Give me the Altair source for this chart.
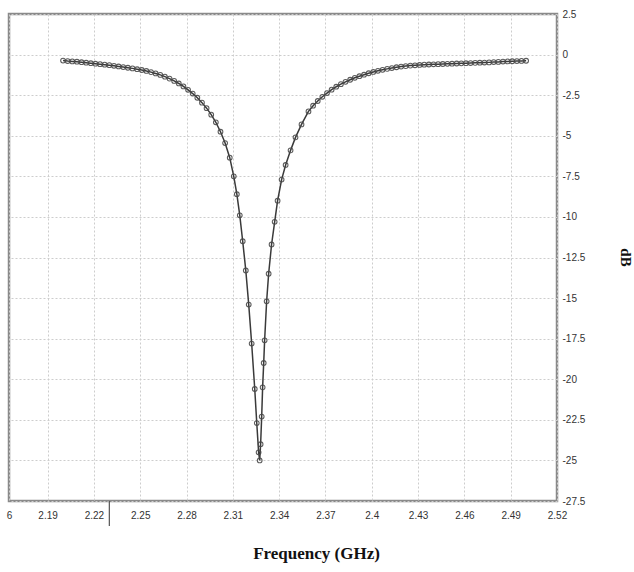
import altair as alt
import pandas as pd

# Frequency (GHz) and return loss (dB)
freq = [
    2.200, 2.203, 2.206, 2.209, 2.212, 2.215, 2.218, 2.221, 2.224, 2.227,
    2.230, 2.233, 2.236, 2.239, 2.242, 2.245, 2.248, 2.251, 2.254, 2.257,
    2.260, 2.263, 2.266, 2.269, 2.272, 2.275, 2.278, 2.281, 2.284, 2.287,
    2.290, 2.293, 2.296, 2.299, 2.302, 2.305, 2.308,
    2.3106, 2.3126, 2.3145, 2.3164, 2.3184, 2.3203, 2.3222, 2.3242, 2.3255, 2.3267, 2.3274,
    2.3280, 2.3287, 2.3293, 2.3300, 2.3306, 2.3319, 2.3332, 2.3351, 2.3371, 2.3390,
    2.3416, 2.3442, 2.3474, 2.3506, 2.3545, 2.3590,
    2.362, 2.365, 2.368, 2.371, 2.374, 2.377, 2.380, 2.383, 2.386, 2.389,
    2.392, 2.395, 2.398, 2.401, 2.404, 2.407, 2.410, 2.413, 2.416, 2.419,
    2.422, 2.425, 2.428, 2.431, 2.434, 2.437, 2.440, 2.443, 2.446, 2.449,
    2.452, 2.455, 2.458, 2.461, 2.464, 2.467, 2.470, 2.473, 2.476, 2.479,
    2.482, 2.485, 2.488, 2.491, 2.494, 2.497, 2.500,
]
db = [
    -0.37, -0.40, -0.42, -0.44, -0.47, -0.50, -0.53, -0.56, -0.59, -0.62,
    -0.65, -0.69, -0.73, -0.77, -0.81, -0.85, -0.90, -0.95, -1.01, -1.08,
    -1.16, -1.25, -1.36, -1.48, -1.62, -1.78, -1.96, -2.17, -2.40, -2.66,
    -2.96, -3.30, -3.70, -4.17, -4.75, -5.45, -6.35,
    -7.5, -8.6, -9.9, -11.5, -13.3, -15.4, -17.8, -20.6, -22.7, -24.5, -25.0,
    -24.0, -22.3, -20.5, -19.0, -17.6, -15.2, -13.5, -11.7, -10.3, -9.0,
    -7.7, -6.8, -5.9, -5.1, -4.3, -3.5,
    -3.15, -2.86, -2.60, -2.37, -2.16, -1.98, -1.82, -1.68, -1.55, -1.43,
    -1.33, -1.24, -1.15, -1.07, -1.00, -0.94, -0.88, -0.83, -0.78, -0.74,
    -0.71, -0.68, -0.66, -0.64, -0.62, -0.61, -0.60, -0.59, -0.58, -0.57,
    -0.56, -0.55, -0.54, -0.53, -0.52, -0.51, -0.50, -0.49, -0.48, -0.46,
    -0.45, -0.43, -0.42, -0.41, -0.40, -0.39, -0.38,
]
x_ticks = [2.165, 2.19, 2.22, 2.25, 2.28, 2.31, 2.34, 2.37, 2.40, 2.43, 2.46, 2.49, 2.52]
y_ticks = [2.5, 0, -2.5, -5, -7.5, -10, -12.5, -15, -17.5, -20, -22.5, -25, -27.5]
marker_x = [2.23]

df = pd.DataFrame({"f": freq, "db": db})

grid_color = "#cdcdcd"

x_enc = alt.X(
    "f:Q",
    scale=alt.Scale(domain=[2.165, 2.52], nice=False, zero=False),
    axis=alt.Axis(
        values=x_ticks,
        labelExpr="datum.value < 2.17 ? '6' : '' + datum.value",
        title="Frequency (GHz)", titleFont="Liberation Serif", titleFontSize=17,
        titleFontWeight="bold", titleColor="#111", titleX=307, titleY=52,
        titleBaseline="middle", titleAlign="center",
        labelFont="Liberation Sans", labelFontSize=10, labelColor="#333",
        labelPadding=9, ticks=False, domain=False,
        grid=True, gridColor=grid_color, gridDash=[2, 2], gridWidth=1,
        labelFlush=False,
    ),
)
y_enc = alt.Y(
    "db:Q",
    scale=alt.Scale(domain=[-27.5, 2.5], nice=False, zero=False),
    axis=alt.Axis(
        orient="right", values=y_ticks,
        labelExpr="'' + datum.value",
        title="dB", titleFont="Liberation Serif", titleFontSize=15,
        titleFontWeight="bold", titleColor="#111", titleAngle=90,
        titleX=68, titleY=243, titleAlign="center", titleBaseline="middle",
        labelFont="Liberation Sans", labelFontSize=10, labelColor="#333",
        labelPadding=5, ticks=False, domain=False,
        grid=True, gridColor=grid_color, gridDash=[2, 2], gridWidth=1,
        labelFlush=False,
    ),
)

line = alt.Chart(df).mark_line(color="#3a3a3a", strokeWidth=1.5).encode(x=x_enc, y=y_enc)
pts = alt.Chart(df).mark_point(
    shape="circle", filled=False, size=22, color="#4a4a4a", strokeWidth=1.1, opacity=0.9
).encode(x="f:Q", y="db:Q")

stub = alt.Chart(pd.DataFrame({"f": marker_x})).mark_rule(
    color="#555", strokeWidth=1.2
).encode(x="f:Q", y=alt.value(487), y2=alt.value(512))

chart = (
    alt.layer(line, pts, stub)
    .properties(
        width=548, height=487,
        autosize=alt.AutoSizeParams(type="none"),
        padding={"left": 9, "top": 14, "right": 77, "bottom": 71},
        background="white",
    )
    .configure_view(stroke="#8a8a8a", strokeWidth=2.5)
)

chart.save("out.html", embed_options={"renderer": "svg", "actions": False})
